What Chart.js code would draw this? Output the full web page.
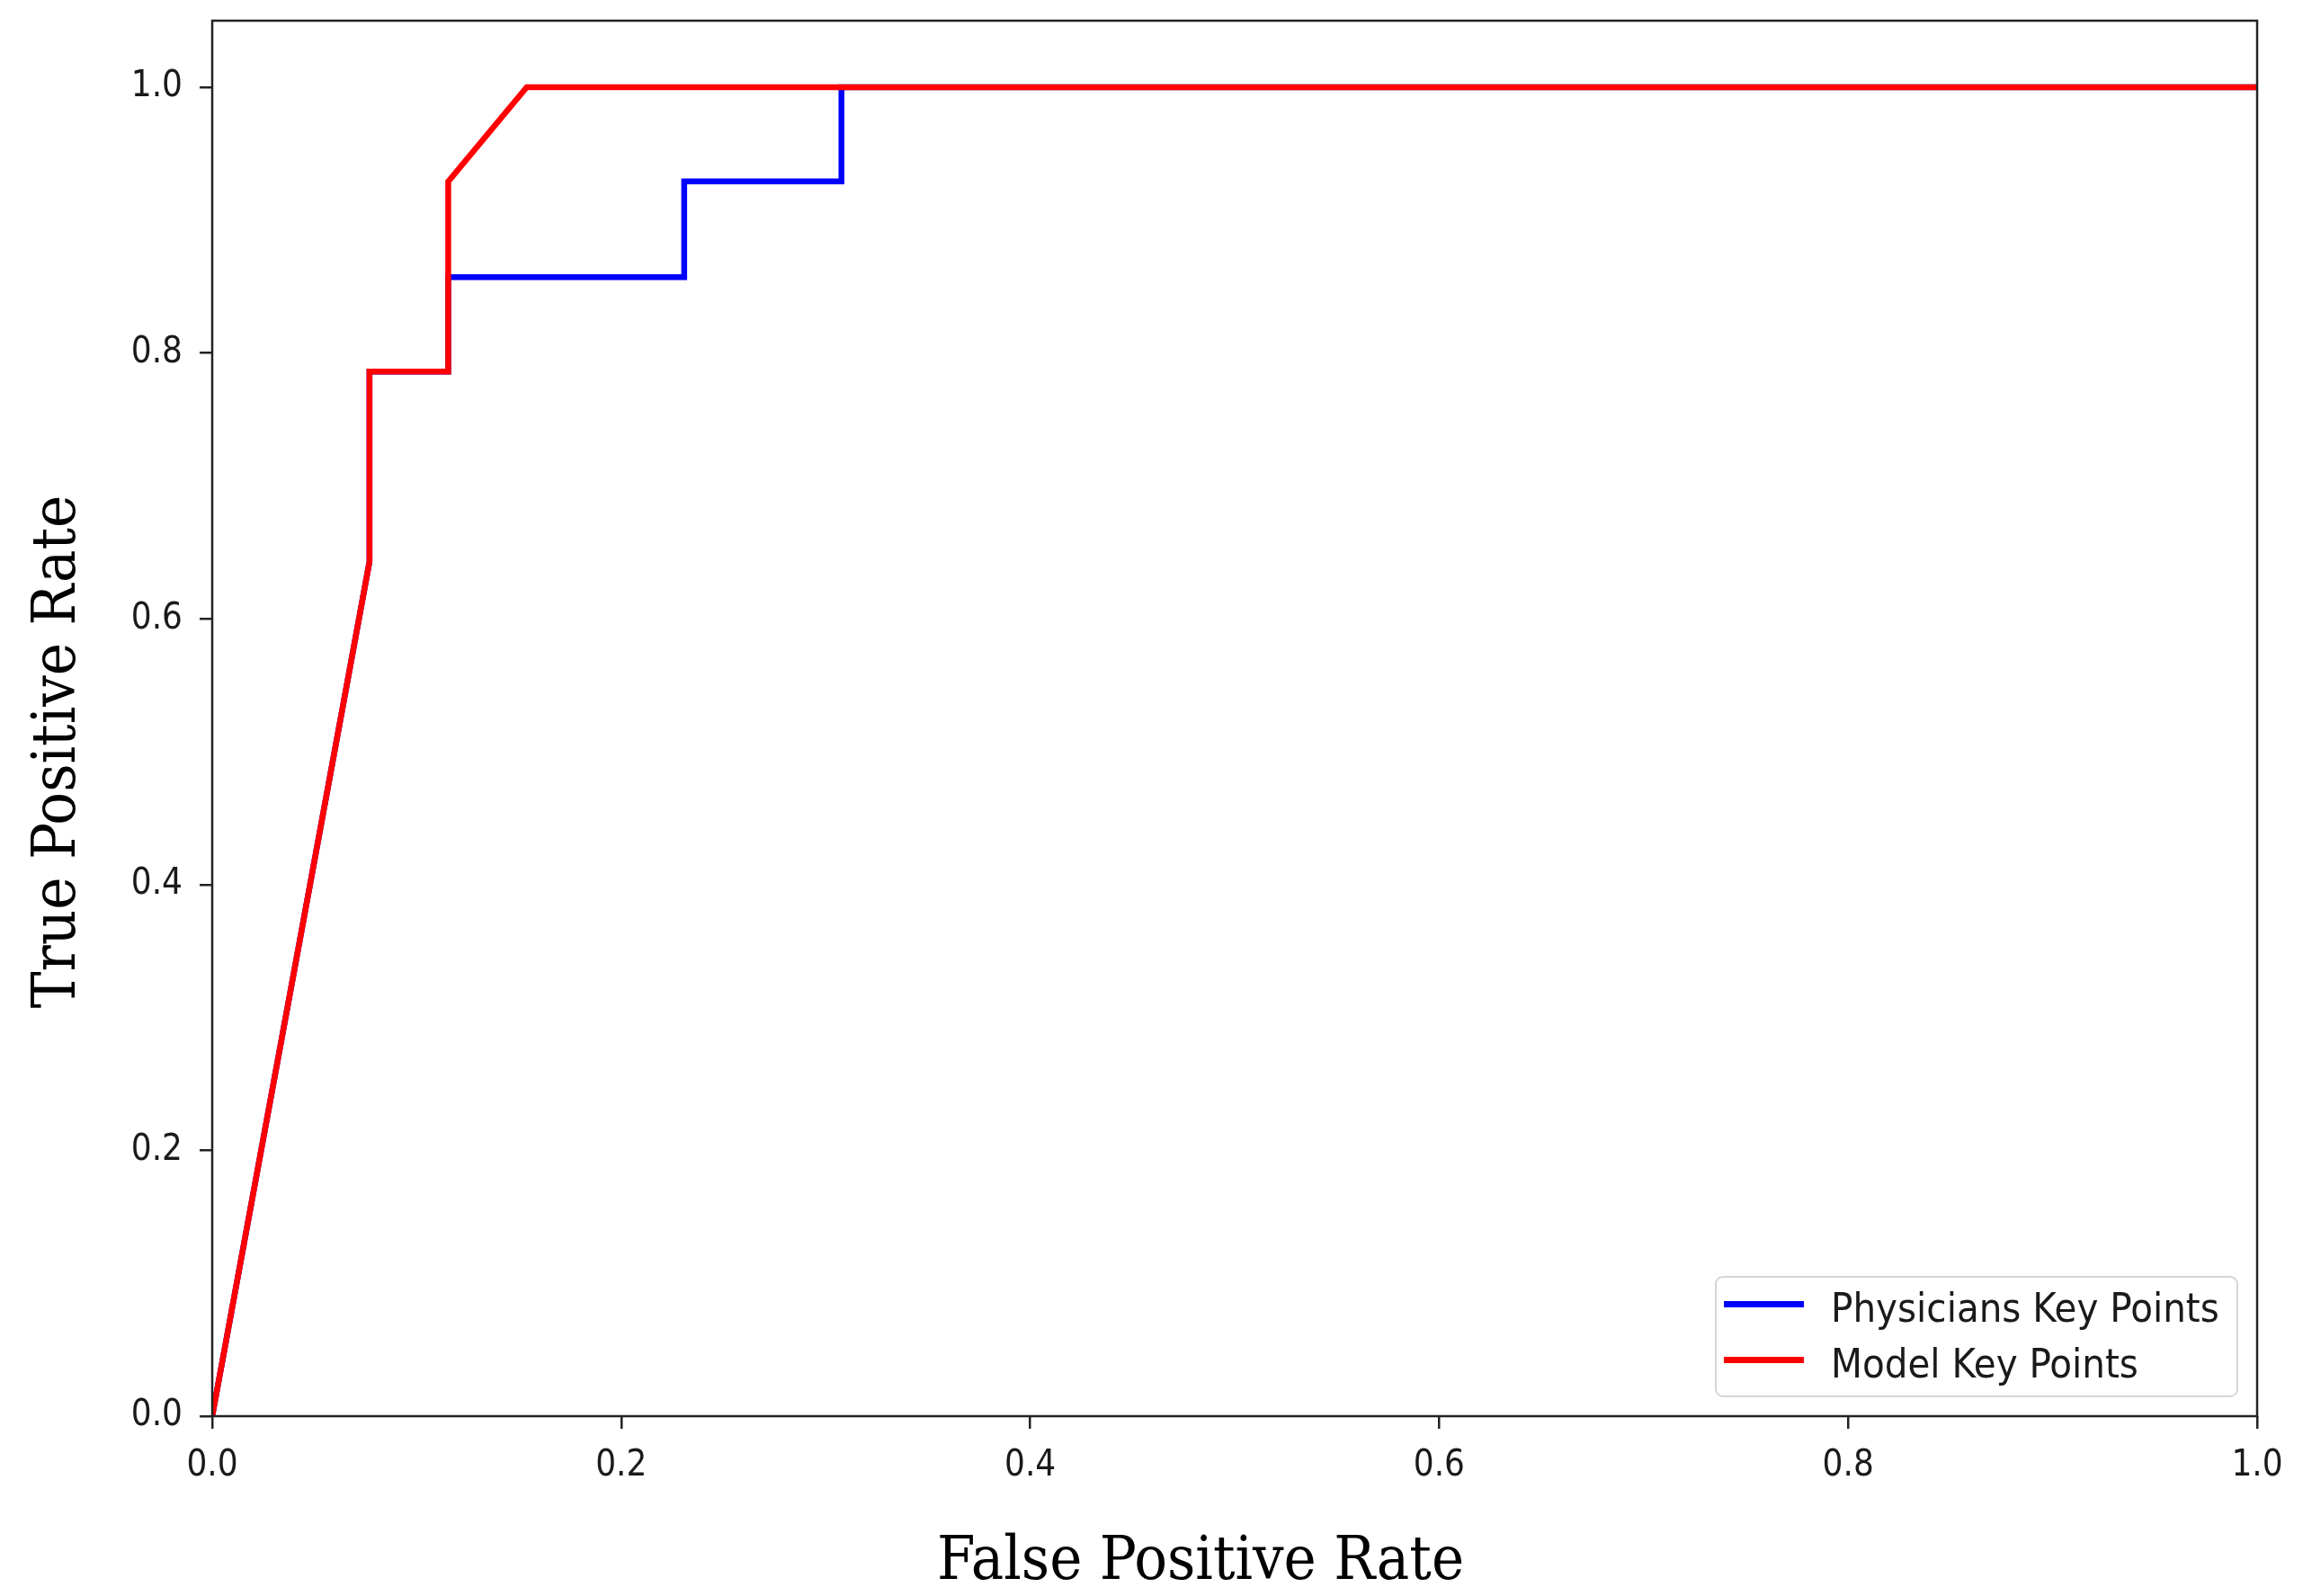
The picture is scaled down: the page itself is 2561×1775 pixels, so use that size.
<!DOCTYPE html>
<html>
<head>
<meta charset="utf-8">
<script src="https://cdn.jsdelivr.net/npm/chart.js@4.4.1/dist/chart.umd.min.js"></script>
<style>
  html, body { margin: 0; padding: 0; background: #ffffff; }
  #wrap { position: relative; width: 2561px; height: 1775px; }
  #c { position: absolute; left: 0; top: 0; }
  #legend {
    position: absolute; left: 1907px; top: 1419px; width: 578px; height: 131px;
    border: 2px solid #d6d6d6; border-radius: 9px; background: rgba(255,255,255,0.85);
    font-family: "DejaVu Sans Condensed", "DejaVu Sans", sans-serif; font-size: 45px; color: #1a1a1a;
  }
  .item { position: absolute; left: 0; height: 50px; white-space: nowrap; }
  .swatch { position: absolute; left: 8px; width: 89px; height: 7px; }
  .label { position: absolute; left: 127px; line-height: 50px; }
</style>
</head>
<body>
<div id="wrap">
  <canvas id="c" width="2561" height="1775"></canvas>
  <div id="legend"></div>
</div>
<script>
// ---- data ----
const physiciansFPR = [0, 0.0769, 0.0769, 0.1154, 0.1154, 0.2308, 0.2308, 0.3077, 0.3077, 1.0];
const physiciansTPR = [0, 0.643, 0.786, 0.786, 0.857, 0.857, 0.929, 0.929, 1.0, 1.0];
const modelFPR = [0, 0.0769, 0.0769, 0.1154, 0.1154, 0.1538, 1.0];
const modelTPR = [0, 0.643, 0.786, 0.786, 0.929, 1.0, 1.0];
const xTicks = [0, 0.2, 0.4, 0.6, 0.8, 1.0];
const yTicks = [0, 0.2, 0.4, 0.6, 0.8, 1.0];
const seriesNames = ["Physicians Key Points", "Model Key Points"];
const seriesColors = ["#0000ff", "#ff0000"];
const xTitle = "False Positive Rate";
const yTitle = "True Positive Rate";

const toPoints = (xs, ys) => xs.map((x, i) => ({ x: x, y: ys[i] }));

const tickFont = { family: '"DejaVu Sans Condensed", "DejaVu Sans", sans-serif', size: 40, lineHeight: 1.15 };
const titleFontCss = '68px "DejaVu Serif Condensed", "DejaVu Serif", serif';

const spines = {
  id: 'spines',
  afterDatasetsDraw(chart) {
    const { ctx, chartArea: a } = chart;
    ctx.save();
    ctx.strokeStyle = '#222';
    ctx.lineWidth = 2.5;
    ctx.strokeRect(a.left, a.top, a.right - a.left, a.bottom - a.top);
    ctx.restore();
  }
};

// axis titles, placed relative to the chart area
const axisTitles = {
  id: 'axisTitles',
  afterDraw(chart) {
    const { ctx, chartArea: a } = chart;
    ctx.save();
    ctx.fillStyle = '#000';
    ctx.font = titleFontCss;
    ctx.textAlign = 'center';
    ctx.textBaseline = 'alphabetic';
    ctx.fillText(xTitle, (a.left + a.right) / 2 - 38, a.bottom + 181);
    ctx.translate(83, (a.top + a.bottom) / 2 + 37);
    ctx.rotate(-Math.PI / 2);
    ctx.fillText(yTitle, 0, 0);
    ctx.restore();
  }
};

const chart = new Chart(document.getElementById('c'), {
  type: 'line',
  data: {
    datasets: [
      { label: seriesNames[0], data: toPoints(physiciansFPR, physiciansTPR), borderColor: seriesColors[0],
        backgroundColor: seriesColors[0], borderWidth: 6.5, pointRadius: 0, tension: 0, fill: false, order: 1,
        borderJoinStyle: 'miter' },
      { label: seriesNames[1], data: toPoints(modelFPR, modelTPR), borderColor: seriesColors[1],
        backgroundColor: seriesColors[1], borderWidth: 6.5, pointRadius: 0, tension: 0, fill: false, order: 0,
        borderJoinStyle: 'miter' }
    ]
  },
  options: {
    responsive: false,
    animation: false,
    devicePixelRatio: 1,
    layout: { padding: { top: 23, right: 51, left: 0, bottom: 0 } },
    plugins: { legend: { display: false }, tooltip: { enabled: false } },
    scales: {
      x: {
        type: 'linear', min: 0, max: 1,
        afterBuildTicks: s => { s.ticks = xTicks.map(v => ({ value: v })); },
        afterFit: s => { s.height = 200; s.paddingLeft = 0; s.paddingRight = 0; },
        grid: { drawOnChartArea: false, drawTicks: true, tickLength: 14, color: '#222', lineWidth: 2.5 },
        border: { display: false },
        ticks: { font: tickFont, color: '#1a1a1a', padding: 19, maxRotation: 0, callback: v => Number(v).toFixed(1) },
        title: { display: false }
      },
      y: {
        type: 'linear', min: 0, max: 1.05,
        afterBuildTicks: s => { s.ticks = yTicks.map(v => ({ value: v })); },
        afterFit: s => { s.width = 236; s.paddingTop = 0; s.paddingBottom = 0; },
        grid: { drawOnChartArea: false, drawTicks: true, tickLength: 14, color: '#222', lineWidth: 2.5 },
        border: { display: false },
        ticks: { font: tickFont, color: '#1a1a1a', padding: 19, callback: v => Number(v).toFixed(1) },
        title: { display: false }
      }
    }
  },
  plugins: [spines, axisTitles]
});

// HTML legend built from the chart's datasets
const legendEl = document.getElementById('legend');
chart.data.datasets.forEach((ds, i) => {
  const item = document.createElement('div');
  item.className = 'item';
  item.style.top = (9 + i * 62) + 'px';
  const sw = document.createElement('div');
  sw.className = 'swatch';
  sw.style.background = ds.borderColor;
  sw.style.top = '17px';
  const lb = document.createElement('div');
  lb.className = 'label';
  lb.textContent = ds.label;
  item.appendChild(sw);
  item.appendChild(lb);
  legendEl.appendChild(item);
});
</script>
</body>
</html>
